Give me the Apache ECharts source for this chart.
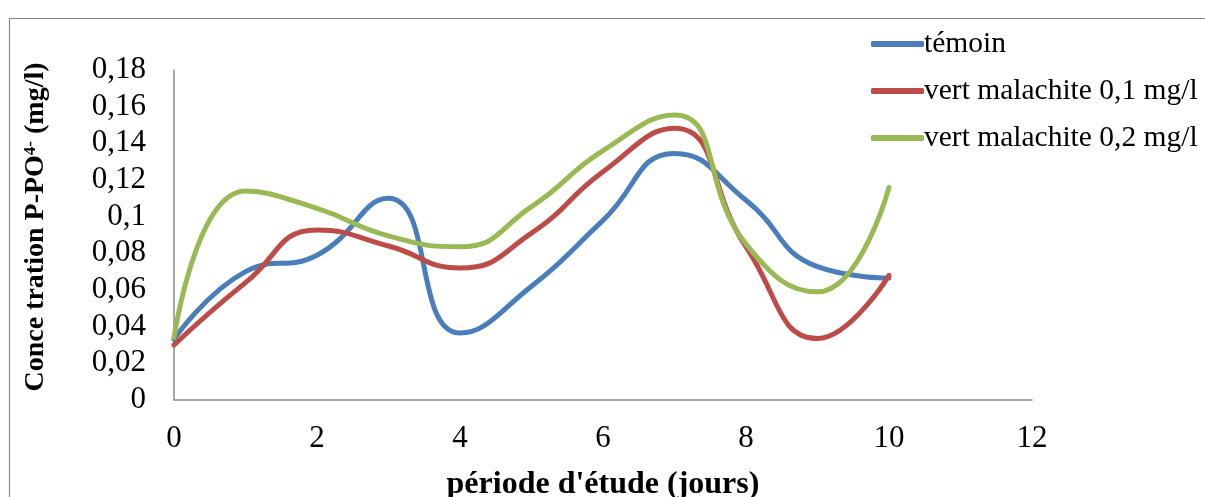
<!DOCTYPE html>
<html>
<head>
<meta charset="utf-8">
<script src="https://cdn.jsdelivr.net/npm/echarts@6/dist/echarts.min.js"></script>
<style>
html,body{margin:0;padding:0;background:#fff;}
#chart{width:1205px;height:497px;}
</style>
</head>
<body>
<div id="chart"></div>
<script>
var days = [0, 1, 2, 3, 4, 5, 6, 7, 8, 9, 10];
var temoin = [0.033, 0.070, 0.079, 0.110, 0.0365, 0.062, 0.098, 0.1345, 0.109, 0.0727, 0.0665];
var vert01 = [0.030, 0.064, 0.0927, 0.084, 0.072, 0.091, 0.1245, 0.1482, 0.0836, 0.0335, 0.068];
var vert02 = [0.034, 0.114, 0.1045, 0.0895, 0.0836, 0.1055, 0.136, 0.1555, 0.085, 0.059, 0.116];
var seriesNames = ['témoin', 'vert malachite 0,1 mg/l', 'vert malachite 0,2 mg/l'];
var yTickLabels = ['0', '0,02', '0,04', '0,06', '0,08', '0,1', '0,12', '0,14', '0,16', '0,18'];
var xTickLabels = ['0', '2', '4', '6', '8', '10', '12'];

function pairs(vals) { return days.map(function (d, i) { return [d, vals[i]]; }); }

var FONT = '"Liberation Serif", "Times New Roman", serif';
var colors = ['#4a7ebb', '#be4b48', '#98b954'];
var chart = echarts.init(document.getElementById('chart'));
var axisColor = '#8c8c8c';

chart.setOption({
  animation: false,
  backgroundColor: '#fff',
  textStyle: { fontFamily: FONT },
  graphic: [{
    type: 'rect', left: 7, top: 16, silent: true,
    shape: { width: 1300, height: 600 },
    style: { fill: 'none', stroke: '#888', lineWidth: 1.2 }
  }],
  grid: { left: 174, right: 173, top: 70, bottom: 97, containLabel: false, outerBoundsMode: 'none' },
  legend: {
    orient: 'vertical', left: 866, top: 24,
    itemWidth: 53, itemHeight: 6, itemGap: 17,
    icon: 'roundRect',
    textStyle: { fontFamily: FONT, fontSize: 29.5, color: '#000', padding: [0, 0, 0, -5] },
    data: seriesNames
  },
  xAxis: {
    type: 'value', min: 0, max: 12, interval: 2,
    name: "période d'étude (jours)", nameLocation: 'middle', nameGap: 69,
    nameTextStyle: { fontFamily: FONT, fontSize: 32, fontWeight: 'bold', color: '#000' },
    axisLine: { show: true, lineStyle: { color: axisColor, width: 1.5 } },
    axisTick: { show: false },
    splitLine: { show: false },
    axisLabel: {
      fontFamily: FONT, fontSize: 31, color: '#000', margin: 23,
      formatter: function (v) { return xTickLabels[Math.round(v / 2)]; }
    }
  },
  yAxis: {
    type: 'value', min: 0, max: 0.18, interval: 0.02,
    name: 'Conce tration P-PO{s|4-} (mg/l)', nameLocation: 'middle', nameGap: 124,
    nameRotate: 90,
    nameTextStyle: {
      fontFamily: FONT, fontSize: 28, fontWeight: 'bold', color: '#000',
      padding: [0, 0, 0, 16],
      rich: { s: { fontFamily: FONT, fontSize: 17, fontWeight: 'bold', color: '#000', verticalAlign: 'top', padding: [0, 0, 10, 0] } }
    },
    axisLine: { show: true, lineStyle: { color: axisColor, width: 1.5 } },
    axisTick: { show: false },
    splitLine: { show: false },
    axisLabel: {
      fontFamily: FONT, fontSize: 31, color: '#000', margin: 28,
      formatter: function (v) { return yTickLabels[Math.round(v / 0.02)]; }
    }
  },
  series: [temoin, vert01, vert02].map(function (vals, i) {
    return {
      name: seriesNames[i], type: 'line', smooth: 0.5,
      data: pairs(vals), showSymbol: false, symbol: 'none',
      lineStyle: { color: colors[i], width: 5, cap: 'round', join: 'round' },
      itemStyle: { color: colors[i] }
    };
  })
});
</script>
</body>
</html>
